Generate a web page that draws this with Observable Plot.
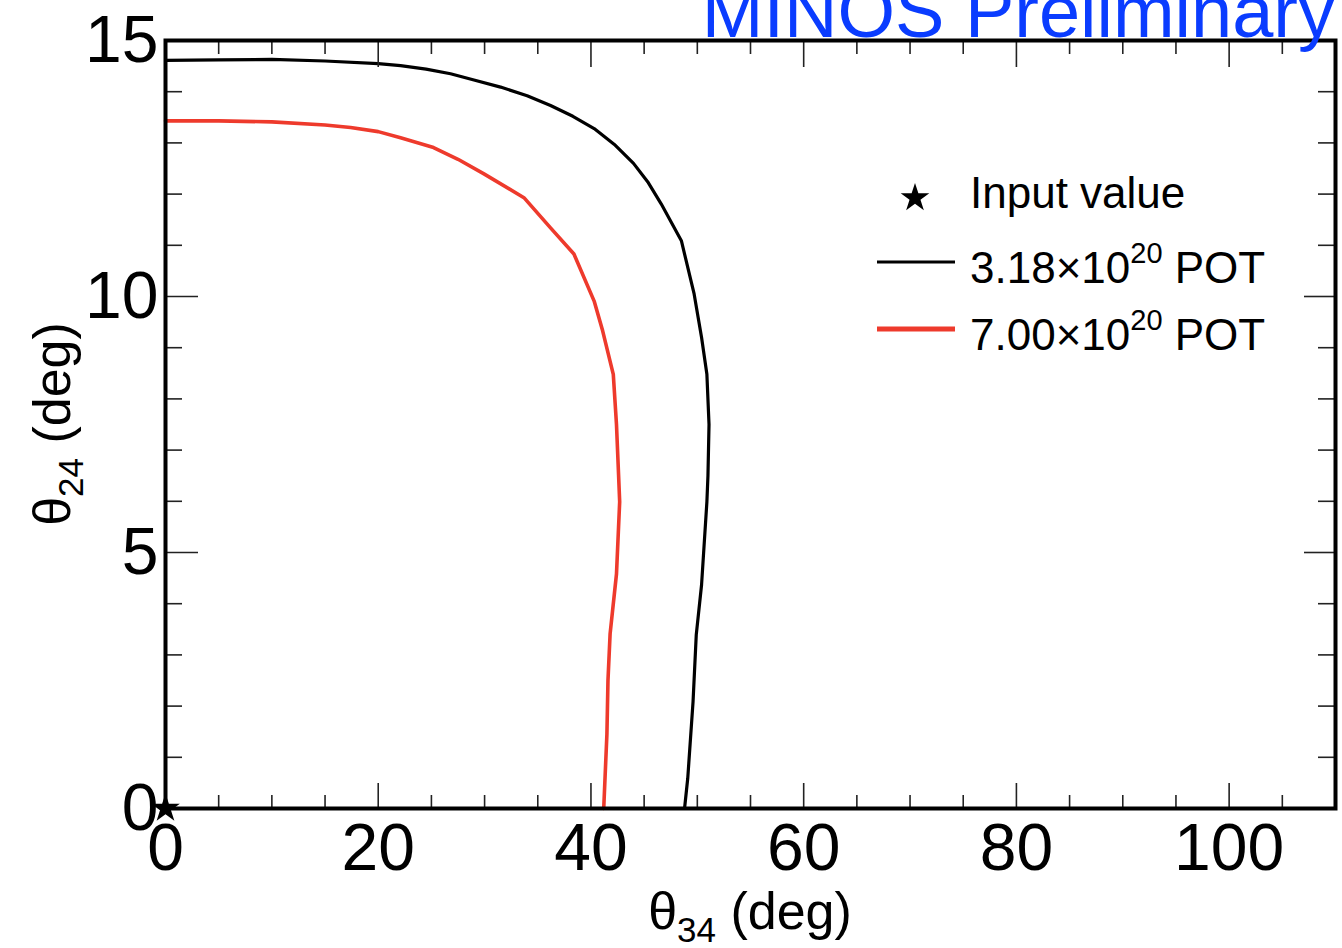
<!DOCTYPE html>
<html><head><meta charset="utf-8">
<script src="https://cdn.jsdelivr.net/npm/d3@7"></script>
<script src="https://cdn.jsdelivr.net/npm/@observablehq/plot@0.6"></script>
<style>
html,body{margin:0;padding:0;background:#fff;}
#chart{position:relative;width:1342px;height:948px;overflow:hidden;}
#chart svg{overflow:visible;}
</style></head><body><div id="chart"></div>
<script>
// ---- data ----
const xMajorTicks = [0, 20, 40, 60, 80, 100];
const xMinorTicks = [5, 10, 15, 25, 30, 35, 45, 50, 55, 65, 70, 75, 85, 90, 95, 105];
const yMajorTicks = [0, 5, 10, 15];
const yMinorTicks = [1, 2, 3, 4, 6, 7, 8, 9, 11, 12, 13, 14];

// 3.18e20 POT contour (black)
const blackTheta34 = [0, 5, 10, 15, 20, 22.1, 24.5, 26.8, 29, 31.5, 34, 36.2, 38.3, 40.3, 42.2, 44, 45.4, 46.6, 48.5, 49.7, 50.4, 50.9, 51.1, 51.0, 50.9, 50.4, 49.9, 49.6, 49.1, 48.8];
const blackTheta24 = [14.61, 14.62, 14.63, 14.6, 14.55, 14.51, 14.44, 14.35, 14.23, 14.09, 13.92, 13.73, 13.52, 13.28, 12.97, 12.6, 12.22, 11.81, 11.09, 10.05, 9.2, 8.48, 7.5, 6.5, 5.99, 4.37, 3.39, 2.09, 0.59, 0];
// 7.00e20 POT contour (red)
const redTheta34 = [0, 5, 10, 15, 17.4, 20, 22.1, 25.2, 27.5, 29.9, 33.7, 36.2, 38.4, 40.3, 41.1, 42.1, 42.4, 42.6, 42.7, 42.4, 41.8, 41.6, 41.5, 41.2];
const redTheta24 = [13.43, 13.43, 13.41, 13.35, 13.3, 13.22, 13.1, 12.91, 12.68, 12.4, 11.93, 11.34, 10.83, 9.91, 9.33, 8.48, 7.5, 6.5, 5.99, 4.58, 3.41, 2.5, 1.45, 0];
// input value
const inputTheta34 = [0];
const inputTheta24 = [0];

const seriesLabels = ["Input value", "3.18×10", "7.00×10"];

// ---- build tables ----
const blackPts = blackTheta34.map((x, i) => ({x, y: blackTheta24[i]}));
const redPts = redTheta34.map((x, i) => ({x, y: redTheta24[i]}));
const inputPts = inputTheta34.map((x, i) => ({x, y: inputTheta24[i]}));

const W = 1342, H = 948;
const mL = 165, mR = 7, mT = 40, mB = 140;
const fw = W - mL - mR, fh = H - mT - mB;
const font = "'Liberation Sans', Arial, Helvetica, sans-serif";
const tickColor = "#222";
const redColor = "#ee3a2c";

const plot = Plot.plot({
  width: W, height: H,
  marginLeft: mL, marginRight: mR, marginTop: mT, marginBottom: mB,
  style: {fontFamily: font, background: "white", color: "black", overflow: "visible"},
  x: {domain: [0, 110]},
  y: {domain: [0, 15]},
  marks: [
    Plot.dot(inputPts, {x: "x", y: "y", symbol: "star", r: 9, fill: "black", stroke: "none"}),
    Plot.line(blackPts, {x: "x", y: "y", stroke: "black", strokeWidth: 3.2, strokeLinejoin: "round"}),
    Plot.line(redPts, {x: "x", y: "y", stroke: redColor, strokeWidth: 3.6, strokeLinejoin: "round"}),
    // inward ticks
    Plot.tickX(xMajorTicks, {x: d => d, insetTop: fh - 25, stroke: tickColor, strokeWidth: 1.6}),
    Plot.tickX(xMinorTicks, {x: d => d, insetTop: fh - 13, stroke: tickColor, strokeWidth: 1.6}),
    Plot.tickX(xMajorTicks, {x: d => d, insetBottom: fh - 27, stroke: tickColor, strokeWidth: 1.6}),
    Plot.tickX(xMinorTicks, {x: d => d, insetBottom: fh - 14, stroke: tickColor, strokeWidth: 1.6}),
    Plot.tickY(yMajorTicks, {y: d => d, insetRight: fw - 33, stroke: tickColor, strokeWidth: 1.6}),
    Plot.tickY(yMinorTicks, {y: d => d, insetRight: fw - 17, stroke: tickColor, strokeWidth: 1.6}),
    Plot.tickY(yMajorTicks, {y: d => d, insetLeft: fw - 31, stroke: tickColor, strokeWidth: 1.6}),
    Plot.tickY(yMinorTicks, {y: d => d, insetLeft: fw - 17, stroke: tickColor, strokeWidth: 1.6}),
    Plot.frame({stroke: "black", strokeWidth: 4}),
    Plot.axisX(xMajorTicks, {tickSize: 0, tickPadding: 15, fontSize: 66, label: null, fill: "black", tickFormat: d => String(d)}),
    Plot.axisY(yMajorTicks, {tickSize: 0, tickPadding: 7, fontSize: 66, label: null, fill: "black", tickFormat: d => String(d)})
  ]
});
document.getElementById("chart").appendChild(plot);

// ---- text overlays (title, axis titles, legend) ----
const svg = d3.select(plot);
const g = svg.append("g").attr("font-family", font).attr("fill", "black").attr("text-anchor", "start");

g.append("text").attr("x", 1335).attr("y", 37).attr("text-anchor", "end")
  .attr("font-size", 74).attr("fill", "#0a3cff").text("MINOS Preliminary");

const xt = g.append("text").attr("x", 750).attr("y", 929).attr("text-anchor", "middle").attr("font-size", 52);
xt.append("tspan").text("θ");
xt.append("tspan").attr("font-size", 35).attr("dy", 13).text("34");
xt.append("tspan").attr("dy", -13).text(" (deg)");

const yt = g.append("text").attr("transform", "translate(70,424) rotate(-90)").attr("text-anchor", "middle").attr("font-size", 52);
yt.append("tspan").text("θ");
yt.append("tspan").attr("font-size", 35).attr("dy", 13).text("24");
yt.append("tspan").attr("dy", -13).text(" (deg)");

// legend
g.append("path").attr("d", d3.symbol(d3.symbolStar, Math.PI * 81)()).attr("transform", "translate(915,198)").attr("fill", "black");
g.append("text").attr("x", 970).attr("y", 208).attr("font-size", 44).text(seriesLabels[0]);

g.append("line").attr("x1", 877).attr("x2", 955).attr("y1", 262).attr("y2", 262).attr("stroke", "black").attr("stroke-width", 3);
const t1 = g.append("text").attr("x", 970).attr("y", 283).attr("font-size", 44);
t1.append("tspan").text(seriesLabels[1]);
t1.append("tspan").attr("font-size", 29).attr("dy", -20).text("20");
t1.append("tspan").attr("dy", 20).text(" POT");

g.append("line").attr("x1", 877).attr("x2", 955).attr("y1", 329).attr("y2", 329).attr("stroke", redColor).attr("stroke-width", 5);
const t2 = g.append("text").attr("x", 970).attr("y", 350).attr("font-size", 44);
t2.append("tspan").text(seriesLabels[2]);
t2.append("tspan").attr("font-size", 29).attr("dy", -20).text("20");
t2.append("tspan").attr("dy", 20).text(" POT");
</script>
</body></html>
